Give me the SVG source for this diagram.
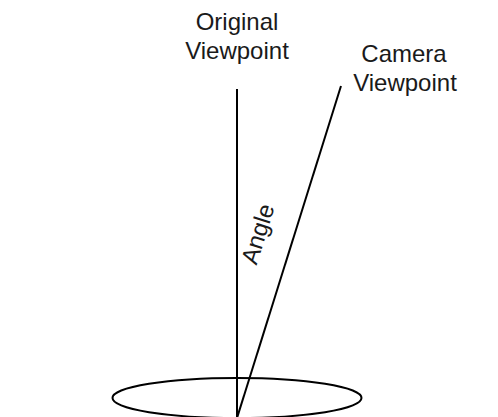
<svg xmlns="http://www.w3.org/2000/svg" width="498" height="417" viewBox="0 0 498 417">
<style>
.ln{stroke:#000;stroke-width:2;fill:none}
.t{font-family:"Liberation Sans",Arial,sans-serif;font-size:24px;fill:#1a1a1a;text-anchor:middle}
</style>
<rect width="498" height="417" fill="#fff"/>
<g id="base">
<ellipse class="ln" cx="237" cy="398" rx="124.5" ry="20"/>
</g>
<g id="connectors">
<line class="ln" x1="237" y1="89" x2="237" y2="418"/>
<line class="ln" x1="237" y1="418" x2="341" y2="86"/>
</g>
<g id="original-viewpoint">
<text class="t" x="237" y="29.5">Original</text>
<text class="t" x="237" y="59">Viewpoint</text>
</g>
<g id="camera-viewpoint">
<text class="t" x="404" y="62">Camera</text>
<text class="t" x="405" y="91">Viewpoint</text>
</g>
<g id="angle-label">
<text class="t" transform="translate(258,234) rotate(-72.5)" x="0" y="8">Angle</text>
</g>
</svg>
